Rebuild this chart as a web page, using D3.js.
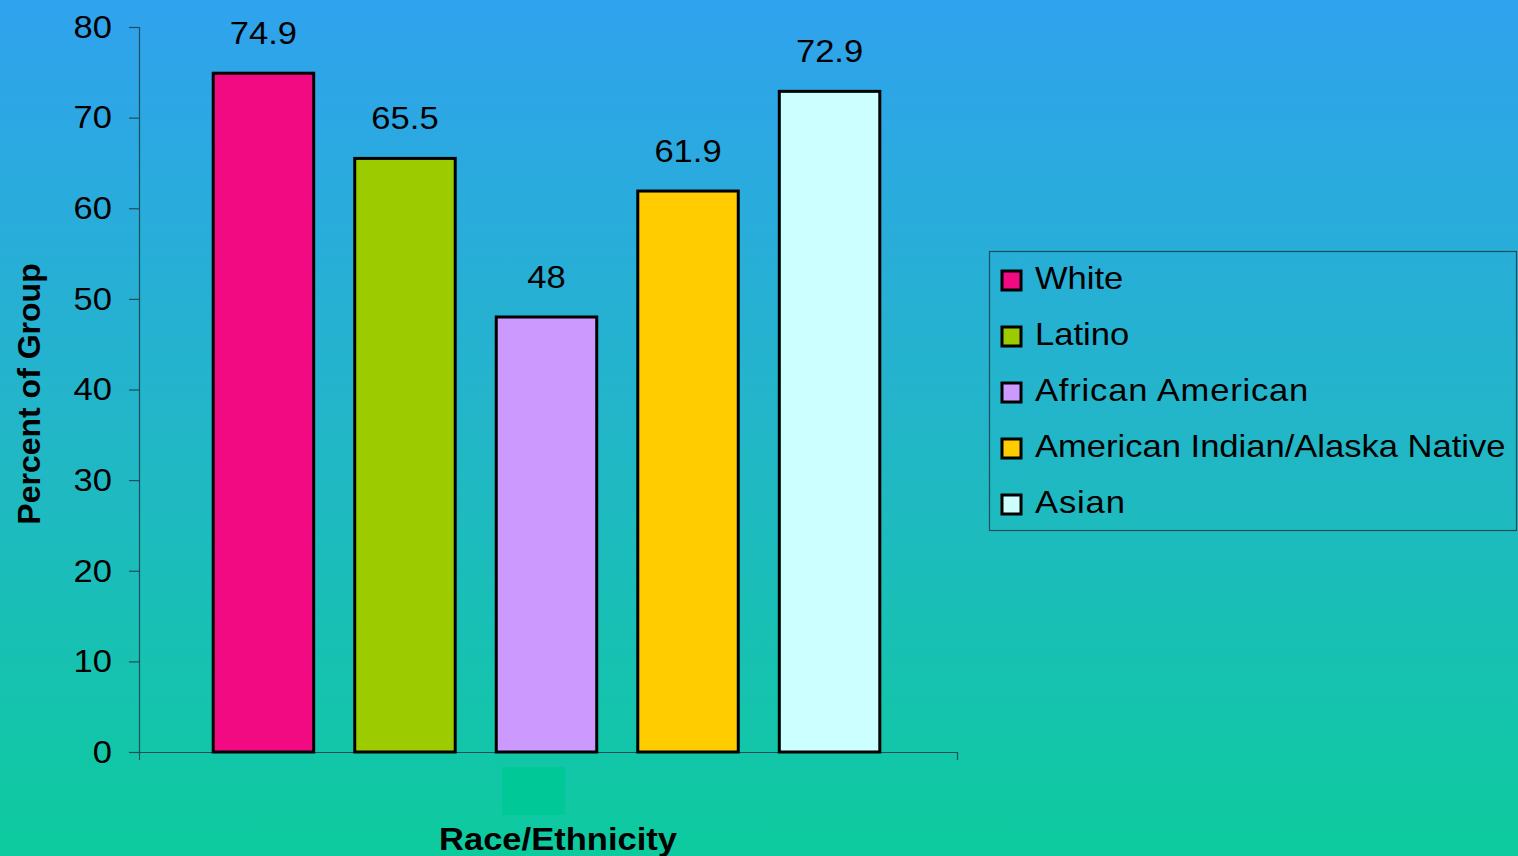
<!DOCTYPE html>
<html><head><meta charset="utf-8">
<script src="https://cdn.jsdelivr.net/npm/d3@7"></script>
<style>html,body{margin:0;padding:0;overflow:hidden;}svg{display:block;}</style>
</head><body>
<script>
const categories = ["White","Latino","African American","American Indian/Alaska Native","Asian"];
const values = [74.9, 65.5, 48, 61.9, 72.9];
const colors = ["#f20a82","#9ccc00","#cc99ff","#ffcc00","#ccffff"];
const yTicks = [0,10,20,30,40,50,60,70,80];
const yTitle = "Percent of Group";
const xTitle = "Race/Ethnicity";

const W = 1518, H = 856;
const SX = 1.08; // horizontal text stretch of the original
const svg = d3.select("body").append("svg").attr("width", W).attr("height", H);
const defs = svg.append("defs");
const grad = defs.append("linearGradient").attr("id","bg").attr("x1",0).attr("y1",0).attr("x2",0).attr("y2",1);
grad.append("stop").attr("offset","0%").attr("stop-color","#30a2ee");
grad.append("stop").attr("offset","50%").attr("stop-color","#22b6c8");
grad.append("stop").attr("offset","100%").attr("stop-color","#0dcb9e");
svg.append("rect").attr("width",W).attr("height",H).attr("fill","url(#bg)");

const font = "'Liberation Sans', Arial, sans-serif";
const y = d3.scaleLinear().domain([0,80]).range([752,27]);
const x = d3.scaleBand().domain(categories).range([137.5,955.5]).paddingInner(0.29).paddingOuter(0.535);

function addText(parent, tx, ty, str, opts = {}) {
  const sx = opts.sx !== undefined ? opts.sx : SX;
  const g = parent.append("g").attr("transform", `translate(${tx},${ty})${opts.rotate ? " rotate(" + opts.rotate + ")" : ""} scale(${sx},1)`);
  return g.append("text").attr("font-family", font).attr("font-size", opts.size || 32)
    .attr("font-weight", opts.bold ? "bold" : "normal")
    .attr("text-anchor", opts.anchor || "start")
    .attr("letter-spacing", opts.ls || 0).attr("fill", "#000").text(str);
}

// decorative green block below axis
svg.append("rect").attr("x",502).attr("y",767).attr("width",63).attr("height",48).attr("fill","#00c896");

// y axis
const yAxis = svg.append("g").attr("transform","translate(139,0)")
  .call(d3.axisLeft(y).tickValues(yTicks).tickSize(10).tickPadding(15));
yAxis.select(".domain").attr("stroke","#1b4d5e").attr("stroke-width",1.2);
yAxis.selectAll(".tick line").attr("stroke","#1b4d5e").attr("stroke-width",1.2);
yAxis.selectAll(".tick text").attr("font-family",font).attr("font-size",32).attr("fill","#000")
  .attr("transform",`scale(${SX},1)`);

// x axis
const xAxis = svg.append("g").attr("transform","translate(1.5,752)")
  .call(d3.axisBottom(x).tickValues([]).tickSizeOuter(8));
xAxis.select(".domain").attr("stroke","#1b4d5e").attr("stroke-width",1.2);

// bars
svg.append("g").selectAll("rect").data(categories).join("rect")
  .attr("x", d => x(d)).attr("width", x.bandwidth())
  .attr("y", (d,i) => y(values[i])).attr("height", (d,i) => y(0) - y(values[i]))
  .attr("fill", (d,i) => colors[i]).attr("stroke","#000").attr("stroke-width",3);

// value labels
const vl = svg.append("g");
categories.forEach((d,i) => {
  addText(vl, x(d) + x.bandwidth()/2, y(values[i]) - 29, String(values[i]), {anchor:"middle"});
});

// axis titles
addText(svg, 40, 394, yTitle, {anchor:"middle", bold:true, rotate:-90, sx:1});
addText(svg, 558, 850, xTitle, {anchor:"middle", bold:true});

// legend
const lg = svg.append("g");
lg.append("rect").attr("x",989.5).attr("y",251.5).attr("width",527).attr("height",279)
  .attr("fill","none").attr("stroke","#1b4d5e").attr("stroke-width",1.2);
const spacing = [0, 0, 0.75, 0, 0.8];
categories.forEach((d,i) => {
  const yy = 280 + i*56;
  lg.append("rect").attr("x",1002).attr("y",yy-9).attr("width",19).attr("height",19)
    .attr("fill",colors[i]).attr("stroke","#000").attr("stroke-width",3);
  addText(lg, 1035, yy + 9, d, {ls: spacing[i]});
});
</script>
</body></html>
